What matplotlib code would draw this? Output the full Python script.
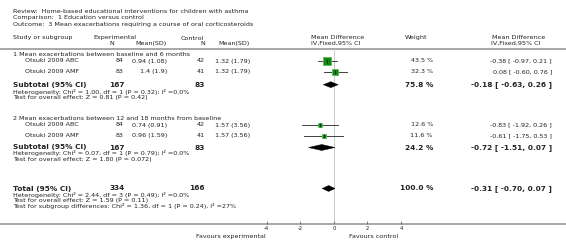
import matplotlib.pyplot as plt
from matplotlib.patches import Polygon

# study rows
studies = ["Otsuki 2009 ABC", "Otsuki 2009 AMF", "Otsuki 2009 ABC", "Otsuki 2009 AMF"]
exp_n = [84, 83, 84, 83]
exp_msd = ["0.94 (1.08)", "1.4 (1.9)", "0.74 (0.91)", "0.96 (1.59)"]
ctl_n = [42, 41, 42, 41]
ctl_msd = ["1.32 (1.79)", "1.32 (1.79)", "1.57 (3.56)", "1.57 (3.56)"]
md = [-0.38, 0.08, -0.83, -0.61]
md_lo = [-0.97, -0.60, -1.92, -1.75]
md_hi = [0.21, 0.76, 0.26, 0.53]
weight = [43.5, 32.3, 12.6, 11.6]

# subtotals + total
pooled_label = ["Subtotal (95% CI)", "Subtotal (95% CI)", "Total (95% CI)"]
pooled_exp_n = [167, 167, 334]
pooled_ctl_n = [83, 83, 166]
pooled_md = [-0.18, -0.72, -0.31]
pooled_lo = [-0.63, -1.51, -0.70]
pooled_hi = [0.26, 0.07, 0.07]
pooled_w = [75.8, 24.2, 100.0]

group_titles = ["1 Mean exacerbations between baseline and 6 months",
                "2 Mean exacerbations between 12 and 18 months from baseline"]
het_lines = [
    ["Heterogeneity: Chi² = 1.00, df = 1 (P = 0.32); I² =0.0%",
     "Test for overall effect: Z = 0.81 (P = 0.42)"],
    ["Heterogeneity: Chi² = 0.07, df = 1 (P = 0.79); I² =0.0%",
     "Test for overall effect: Z = 1.80 (P = 0.072)"],
    ["Heterogeneity: Chi² = 2.44, df = 3 (P = 0.49); I² =0.0%",
     "Test for overall effect: Z = 1.59 (P = 0.11)",
     "Test for subgroup differences: Chi² = 1.36, df = 1 (P = 0.24), I² =27%"],
]
ticks = [-4, -2, 0, 2, 4]

W, H = 566, 248
fig = plt.figure(figsize=(W / 100, H / 100), dpi=100)
bg = fig.add_axes([0, 0, 1, 1])
bg.set_xlim(0, W)
bg.set_ylim(H, 0)
bg.axis("off")

# forest panel: -4..4 maps to px 266.7..401
fx = fig.add_axes([266.7 / W, 0, (401 - 266.7) / W, 1])
fx.set_xlim(-4, 4)
fx.set_ylim(H, 0)
fx.patch.set_alpha(0)
for s in fx.spines.values():
    s.set_visible(False)
fx.set_yticks([])

fs = 4.55
fs_small = 4.55
fs_bold = 5.35
txt = dict(va="center", color="#222222")

# header
bg.text(13, 11.7, "Review:  Home-based educational interventions for children with asthma", fontsize=fs, **txt)
bg.text(13, 17.5, "Comparison:  1 Education versus control", fontsize=fs, **txt)
bg.text(13, 24.3, "Outcome:  3 Mean exacerbations requiring a course of oral corticosteroids", fontsize=fs, **txt)
bg.text(13, 38, "Study or subgroup", fontsize=fs, **txt)
bg.text(93, 38, "Experimental", fontsize=fs, **txt)
bg.text(112, 43.5, "N", fontsize=fs, ha="center", **txt)
bg.text(167, 43.5, "Mean(SD)", fontsize=fs, ha="right", **txt)
bg.text(181, 38, "Control", fontsize=fs, **txt)
bg.text(203, 43.5, "N", fontsize=fs, ha="center", **txt)
bg.text(250, 43.5, "Mean(SD)", fontsize=fs, ha="right", **txt)
bg.text(338, 37.7, "Mean Difference", fontsize=fs, ha="center", **txt)
bg.text(336, 43.5, "IV,Fixed,95% CI", fontsize=fs, ha="center", **txt)
bg.text(416, 37.7, "Weight", fontsize=fs, ha="center", **txt)
bg.text(519, 37.7, "Mean Difference", fontsize=fs, ha="center", **txt)
bg.text(516, 43.5, "IV,Fixed,95% CI", fontsize=fs, ha="center", **txt)
bg.plot([0, W], [49, 49], color="#a0a0a0", lw=1.3)
bg.plot([0, W], [224.3, 224.3], color="#a0a0a0", lw=1.3)

# zero line
fx.plot([0, 0], [49, 224.3], color="#cccccc", lw=0.7, zorder=0)

group_y = [54.3, 118.3]
study_y = [61, 71.7, 125, 135.7]
pooled_y = [84.7, 147.5, 188.5]
het_y = [[91.7, 97.3], [153.5, 159.2], [195, 200.7, 206.3]]

for t, y in zip(group_titles, group_y):
    bg.text(13, y, t, fontsize=fs, **txt)

for i in range(len(studies)):
    y = study_y[i]
    bg.text(25, y, studies[i], fontsize=fs, **txt)
    bg.text(124, y, str(exp_n[i]), fontsize=fs, ha="right", **txt)
    bg.text(167, y, exp_msd[i], fontsize=fs, ha="right", **txt)
    bg.text(205, y, str(ctl_n[i]), fontsize=fs, ha="right", **txt)
    bg.text(250, y, ctl_msd[i], fontsize=fs, ha="right", **txt)
    bg.text(433, y, f"{weight[i]:.1f} %", fontsize=fs_small, ha="right", **txt)
    bg.text(552, y, f"{md[i]:.2f} [ {md_lo[i]:.2f}, {md_hi[i]:.2f} ]", fontsize=fs_small, ha="right", **txt)
    fx.plot([md_lo[i], md_hi[i]], [y, y], color="#222222", lw=0.6, zorder=2)
    side = max(8 * weight[i] / 43.5, 3.2)
    fx.plot(md[i], y, marker="s", ms=side * 0.72, mfc="#118811", mec="#55bb55",
            mew=0.6, zorder=3)
    fx.plot(md[i], y, marker="|", ms=3, color="#111111", mew=0.5, zorder=4)

for i in range(len(pooled_md)):
    y = pooled_y[i]
    bg.text(13, y, pooled_label[i], fontsize=fs_bold, fontweight="bold", **txt)
    bg.text(125, y, str(pooled_exp_n[i]), fontsize=fs_bold, fontweight="bold", ha="right", **txt)
    bg.text(205, y, str(pooled_ctl_n[i]), fontsize=fs_bold, fontweight="bold", ha="right", **txt)
    bg.text(433, y, f"{pooled_w[i]:.1f} %", fontsize=fs_bold, fontweight="bold", ha="right", **txt)
    bg.text(552, y, f"{pooled_md[i]:.2f} [ {pooled_lo[i]:.2f}, {pooled_hi[i]:.2f} ]",
            fontsize=fs_bold, fontweight="bold", ha="right", **txt)
    for line, hy in zip(het_lines[i], het_y[i]):
        bg.text(13, hy, line, fontsize=fs_small, **txt)
    d = Polygon([[pooled_lo[i], y], [pooled_md[i], y - 3], [pooled_hi[i], y],
                 [pooled_md[i], y + 3]], closed=True, fc="black", ec="black", lw=0.3)
    fx.add_patch(d)

# x axis
fx.set_xticks(ticks)
fx.set_xticklabels([str(t) for t in ticks])
fx.xaxis.set_ticks_position("bottom")
fx.spines["bottom"].set_position(("data", 224.3))
fx.tick_params(axis="x", direction="in", length=2, width=0.5, color="#555555",
               labelsize=3.8, pad=1.5, labelcolor="#222222")
bg.text(266, 236.7, "Favours experimental", fontsize=fs_small, ha="right", **txt)
bg.text(349, 236.7, "Favours control", fontsize=fs_small, ha="left", **txt)

fig.savefig("out.png", dpi=100)
